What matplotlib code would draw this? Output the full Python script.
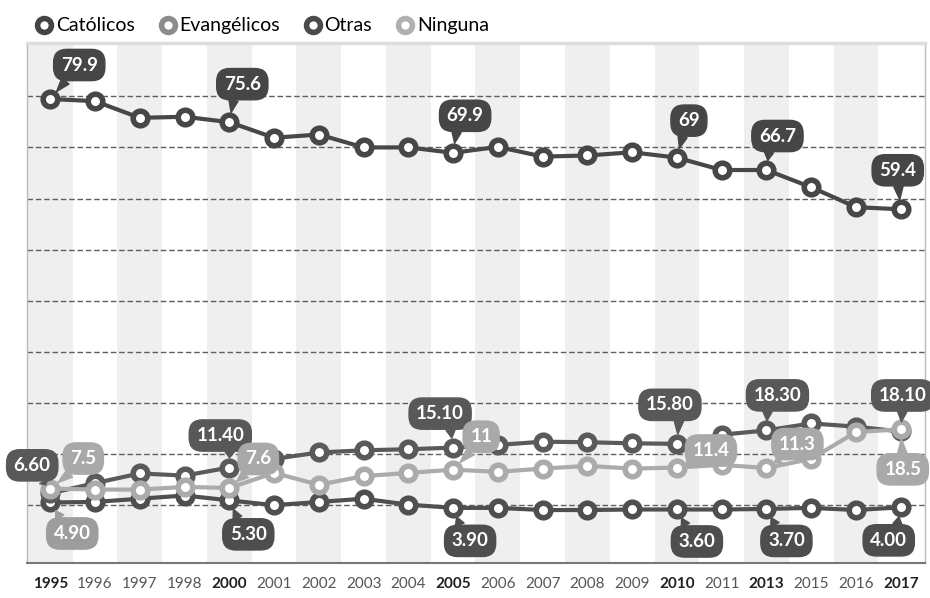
import numpy as np
import matplotlib.pyplot as plt
from matplotlib.lines import Line2D

plt.rcParams['font.family'] = ['Lato', 'DejaVu Sans']

years = ['1995', '1996', '1997', '1998', '2000', '2001', '2002', '2003', '2004', '2005',
         '2006', '2007', '2008', '2009', '2010', '2011', '2013', '2015', '2016', '2017']
bold_years = ['1995', '2000', '2005', '2010', '2013', '2017']

catolicos = [79.9, 79.5, 76.4, 76.6, 75.6, 72.7, 73.3, 70.9, 70.9, 69.9,
             71.0, 69.2, 69.4, 70.0, 69.0, 66.7, 66.7, 63.5, 59.8, 59.4]
evangelicos = [6.6, 8.5, 10.3, 9.9, 11.4, 13.0, 14.2, 14.6, 14.8, 15.1,
               15.6, 16.2, 16.1, 15.9, 15.8, 17.5, 18.3, 19.6, 19.0, 18.1]
otras = [4.9, 5.0, 5.6, 6.2, 5.3, 4.4, 5.0, 5.6, 4.5, 3.9,
         3.9, 3.5, 3.5, 3.6, 3.6, 3.6, 3.7, 3.9, 3.5, 4.0]
ninguna = [7.5, 7.3, 7.3, 7.8, 7.6, 10.4, 8.2, 9.8, 10.4, 11.0,
           10.6, 11.2, 11.7, 11.2, 11.4, 11.9, 11.3, 13.0, 18.0, 18.5]

# (índice del año, texto, desplazamiento en px)
cat_labels = [(0, '79.9', (29, 34)), (4, '75.6', (13, 38)), (9, '69.9', (12, 37)),
              (14, '69', (12, 37)), (16, '66.7', (11, 34)), (19, '59.4', (-3, 39))]
eva_labels = [(0, '6.60', (-18, 28)), (4, '11.40', (-9, 32)), (9, '15.10', (-13, 34)),
              (14, '15.80', (-7, 39)), (16, '18.30', (11, 35)), (19, '18.10', (2, 36))]
nin_labels = [(0, '7.5', (33, 30)), (4, '7.6', (29, 29)), (9, '11', (28, 33)),
              (14, '11.4', (34, 17)), (16, '11.3', (31, 24)), (19, '18.5', (2, -40))]
otr_labels = [(0, '4.90', (22, -31)), (4, '5.30', (19, -34)), (9, '3.90', (17, -33)),
              (14, '3.60', (20, -32)), (16, '3.70', (20, -32)), (19, '4.00', (-12, -33))]

fig = plt.figure(figsize=(9.3, 5.98), dpi=100)
ax = fig.add_axes([0.029, 0.0585, 0.966, 0.8695])

x = np.arange(len(years))
ax.set_xlim(-0.52, 19.55)
ax.set_ylim(-6.35, 90.3)

# franjas alternas por año
for i in x:
    if i % 2 == 0:
        ax.axvspan(i - 0.5, i + 0.5, color='#efefef', lw=0, zorder=0)

for g in np.linspace(4.4, 80.4, 9):
    ax.axhline(g, color='#5e5e5e', lw=1.0, ls=(0, (4, 2)), zorder=1)

series = [
    (catolicos, '#474747', cat_labels, '#464646'),
    (otras, '#4f4f4f', otr_labels, '#4e4e4e'),
    (evangelicos, '#5a5a5a', eva_labels, '#585858'),
    (ninguna, '#ababab', nin_labels, '#a9a9a9'),
]

for k, (vals, col, labs, lcol) in enumerate(series):
    ax.plot(x, vals, color=col, lw=3, marker='o', markersize=10.5,
            markerfacecolor='white', markeredgecolor=col, markeredgewidth=4,
            zorder=3 + k)

for k, (vals, col, labs, lcol) in enumerate(series):
    for i, txt, off in labs:
        c = lcol
        if vals is otras and i == 0:
            c = '#9d9d9d'
        rx = 0.3 if off[0] > 5 else (0.7 if off[0] < -5 else 0.5)
        ry = 0.0 if off[1] > 0 else 1.0
        ax.annotate(txt, (x[i], vals[i]), xytext=off, textcoords='offset pixels',
                    ha='center', va='center', fontsize=13.5, fontweight='bold',
                    color='white',
                    bbox=dict(boxstyle='round,pad=0.38,rounding_size=0.7', fc=c, ec=c),
                    arrowprops=dict(arrowstyle='wedge,tail_width=0.5,shrink_factor=0.5',
                                    fc=c, ec=c, shrinkA=0, shrinkB=7,
                                    relpos=(rx, ry)),
                    zorder=20, annotation_clip=False)

ax.set_yticks([])
ax.set_xticks(x)
ax.set_xticklabels(years)
ax.tick_params(axis='x', length=0, pad=10, labelsize=11, labelcolor='#555555')
for lab in ax.get_xticklabels():
    if lab.get_text() in bold_years:
        lab.set_fontweight('bold')
        lab.set_color('#222222')

for s in ['left', 'right']:
    ax.spines[s].set_color('#bbbbbb')
    ax.spines[s].set_linewidth(1)
ax.spines['top'].set_color('#dddddd')
ax.spines['top'].set_linewidth(2.5)
ax.spines['bottom'].set_color('#777777')
ax.spines['bottom'].set_linewidth(1.5)

names = ['Católicos', 'Evangélicos', 'Otras', 'Ninguna']
legend_colors = ['#444444', '#8c8c8c', '#4a4a4a', '#b0b0b0']
handles = [Line2D([], [], ls='none', marker='o', markersize=10,
                  markerfacecolor='white', markeredgecolor=c, markeredgewidth=4)
           for c in legend_colors]
fig.legend(handles, names, loc='upper left', bbox_to_anchor=(0.018, 1.0), ncol=4,
           frameon=False, fontsize=14, handletextpad=0.1, columnspacing=1.2,
           handlelength=1.0)

fig.savefig('out.png', dpi=100)
